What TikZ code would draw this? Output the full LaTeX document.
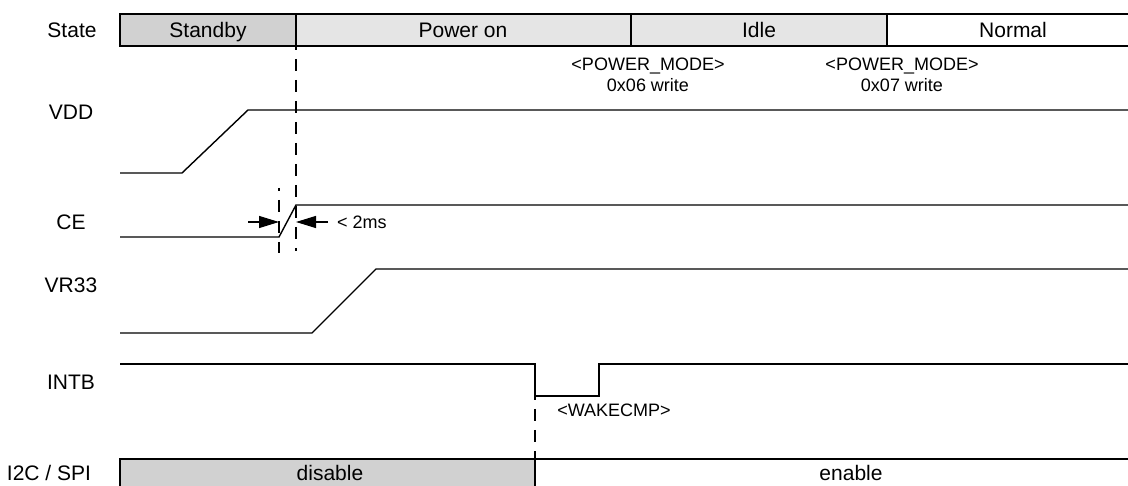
\documentclass[tikz,border=0pt]{standalone}
\usepackage{fontspec}
\setmainfont{Liberation Sans}
\usetikzlibrary{arrows.meta,positioning}

\definecolor{offgray}{gray}{0.82}
\definecolor{ongray}{gray}{0.90}

\begin{document}
\begin{tikzpicture}[
			x = 1pt, y = -1pt,
			sig/.style = {line width = 1.4pt, line join = miter},
			bar/.style = {draw, line width = 1.4pt},
			cut/.style = {line width = 1.2pt, dash pattern = on 12pt off 9pt, dash phase = 9pt},
			lbl/.style = {font = \fontsize{21}{21}\selectfont, inner sep = 0pt, anchor = base, yshift = -7.5pt},
			note/.style = {font = \fontsize{18}{21}\selectfont, inner sep = 0pt, align = center},
			dim/.style = {line width = 1.2pt, -{Triangle[length = 20pt, width = 12pt]}}
			]

			\useasboundingbox (0,0) rectangle (1128,486);
			\clip (0,0) rectangle (1128,486);

			\def\xl{120}
			\def\xr{1150}

			% state bar
			\draw[bar, fill = offgray] (\xl,14) rectangle (296,46);
			\draw[bar, fill = ongray] (296,14) rectangle (631,46);
			\draw[bar, fill = ongray] (631,14) rectangle (887,46);
			\draw[bar, fill = white] (887,14) rectangle (\xr,46);
			\node[lbl] (standby) at (208,30) {Standby};
			\node[lbl] (poweron) at (463,30) {Power on};
			\node[lbl] (idle) at (759,30) {Idle};
			\node[lbl] (normal) at (1013,30) {Normal};

			% bus bar
			\draw[bar, fill = offgray] (\xl,459) rectangle (535,500);
			\draw[bar, fill = white] (535,459) rectangle (\xr,500);
			\node[lbl] (disable) at (330,473) {disable};
			\node[lbl] (enable) at (851,473) {enable};

			% signal names
			\node[lbl] (state) at (72,30) {State};
			\node[lbl] (vdd) at (71,112) {VDD};
			\node[lbl] (ce) at (71,222) {CE};
			\node[lbl] (vr33) at (71,285) {VR33};
			\node[lbl] (intb) at (71,382) {INTB};
			\node[lbl] (bus) at (49,473) {I2C / SPI};

			% waveforms
			\draw[sig] (\xl,173) -- (182,173) -- (248,110) -- (\xr,110);
			\draw[sig] (\xl,237) -- (279,237) -- (296,205) -- (\xr,205);
			\draw[sig] (\xl,333) -- (312,333) -- (376,269) -- (\xr,269);
			\draw[sig] (\xl,364) -- (535,364) -- (535,396) -- (599,396) -- (599,364) -- (\xr,364);

			% timing marks
			\draw[cut] (296,47) -- (296,251);
			\draw[cut] (279,188) -- (279,253);
			\draw[cut] (535,397) -- (535,459);

			\coordinate (ceL) at (248,222);
			\coordinate (ceA) at (279,222);
			\coordinate (ceB) at (296,222);
			\coordinate (ceR) at (328,222);
			\draw[dim] (ceL) -- (ceA);
			\draw[dim] (ceR) -- (ceB);
			\node[note, anchor = west] (twait) at (337,222) {< 2ms};

			% register notes
			\node[note] (pm6) at (648,75) {<POWER\_MODE>\\0x06 write};
			\node[note] (pm7) at (902,75) {<POWER\_MODE>\\0x07 write};
			\node[note] (wake) at (614,410) {<WAKECMP>};

		\end{tikzpicture}
\end{document}
